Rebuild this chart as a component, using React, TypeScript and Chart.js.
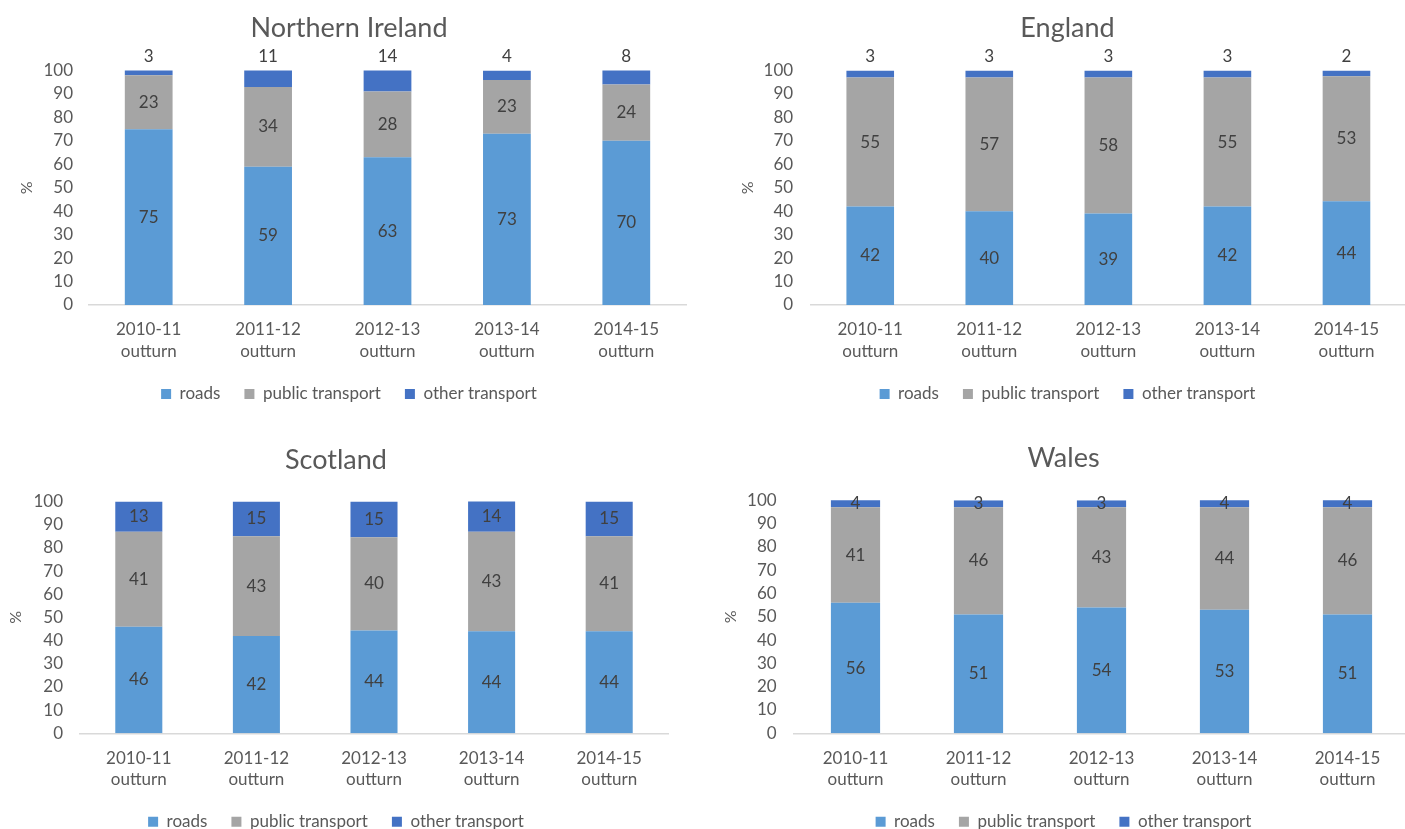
import React, { useEffect, useRef } from 'react';
import { Chart, registerables } from 'chart.js';

Chart.register(...registerables);

// ---------- data ----------
const categories: string[][] = [
  ['2010-11', 'outturn'],
  ['2011-12', 'outturn'],
  ['2012-13', 'outturn'],
  ['2013-14', 'outturn'],
  ['2014-15', 'outturn'],
];
const seriesNames = ['roads', 'public transport', 'other transport'];
const seriesColors = ['#5B9BD5', '#A5A5A5', '#4472C4'];

const niRoads = [75, 59, 63, 73, 70];
const niPublic = [23, 34, 28, 23, 24];
const niOther = [3, 11, 14, 4, 8];

const engRoads = [42, 40, 39, 42, 44.2];
const engPublic = [55, 57, 58, 55, 53.4];
const engOther = [3, 3, 3, 3, 2.4];

const scoRoads = [46, 42, 44.4, 44, 44];
const scoPublic = [41, 43, 40.2, 43, 41];
const scoOther = [13, 15, 15.4, 14, 15];

const walRoads = [56, 51, 54, 53, 51];
const walPublic = [41, 46, 43, 44, 46];
const walOther = [4, 3, 3, 4, 4];

const yMin = 0;
const yMax = 100;
const yStep = 10;

// ---------- layout ----------
const FONT = 'Lato, "Open Sans", sans-serif';
const TEXT = '#595959';
const LABEL = '#404040';

type Layout = {
  cl: number; ct: number; cw: number; ch: number;
  al: number; ar: number; tc: number; px: number;
  titleY: number; areaTop: number; areaBottom: number;
  xLabelY: number; legendY: number; otherAbove: boolean; yPad: number;
};

const PANELS: { title: string; series: number[][]; layout: Layout }[] = [
  {
    title: 'Northern Ireland',
    series: [niRoads, niPublic, niOther],
    layout: { cl: 0, ct: 0, cw: 700, ch: 412, al: 89, ar: 686, tc: 349, px: 27, titleY: 28, areaTop: 70.5, areaBottom: 305, xLabelY: 330, legendY: 394, otherAbove: true, yPad: 16 },
  },
  {
    title: 'England',
    series: [engRoads, engPublic, engOther],
    layout: { cl: 703, ct: 0, cw: 703, ch: 412, al: 810.7, ar: 1406, tc: 1067.5, px: 748, titleY: 28, areaTop: 70.5, areaBottom: 305, xLabelY: 330, legendY: 394, otherAbove: true, yPad: 17.5 },
  },
  {
    title: 'Scotland',
    series: [scoRoads, scoPublic, scoOther],
    layout: { cl: 0, ct: 415, cw: 672, ch: 425, al: 80, ar: 668, tc: 336, px: 16, titleY: 460, areaTop: 501.5, areaBottom: 733.3, xLabelY: 758.3, legendY: 821.7, otherAbove: false, yPad: 17 },
  },
  {
    title: 'Wales',
    series: [walRoads, walPublic, walOther],
    layout: { cl: 703, ct: 415, cw: 706, ch: 425, al: 794, ar: 1409, tc: 1063.5, px: 731, titleY: 458, areaTop: 500.3, areaBottom: 733.3, xLabelY: 758.3, legendY: 821.7, otherAbove: false, yPad: 17.3 },
  },
];

const TITLE_SIZE = 27;
const TITLE_LH = 1.2;
const PCT_SIZE = 16;
const PCT_LH = 1.2;
const TICK_SIZE = 17;
const X_LH = 1.276;
const LEGEND_SIZE = 17;
const LEGEND_PAD = 24;

function segmentLabels(otherAbove: boolean) {
  return {
    id: 'segmentLabels',
    afterDatasetsDraw(chart: any) {
      const { ctx, chartArea } = chart;
      ctx.save();
      ctx.font = `${TICK_SIZE}px ${FONT}`;
      ctx.fillStyle = LABEL;
      ctx.textAlign = 'center';
      ctx.textBaseline = 'middle';
      chart.data.datasets.forEach((ds: any, di: number) => {
        const meta = chart.getDatasetMeta(di);
        meta.data.forEach((bar: any, i: number) => {
          const { x, y, base } = bar.getProps(['x', 'y', 'base'], true);
          const v = ds.data[i] as number;
          let ty: number;
          if (di === 2 && otherAbove) {
            ty = chartArea.top - 13.5;
          } else {
            const top = Math.max(Math.min(y, base), chartArea.top);
            const bottom = Math.min(Math.max(y, base), chartArea.bottom);
            ty = (top + bottom) / 2;
          }
          ctx.fillText(String(Math.round(v)), x, ty);
        });
      });
      ctx.restore();
    },
  };
}

function buildConfig(title: string, series: number[][], L: Layout): any {
  const titleLH = TITLE_SIZE * TITLE_LH;
  const pctLH = PCT_SIZE * PCT_LH;
  const xLH = TICK_SIZE * X_LH;
  const pl = 2 * L.tc - L.ar - L.cl;
  const pr = L.cl + L.cw - L.ar;
  const yW = L.al - (L.cl + pl);
  const pctPad = Math.max(0, L.px - (L.cl + pl) - pctLH / 2);
  const tPadTop = L.titleY - L.ct - titleLH / 2;
  const tPadBottom = L.areaTop - L.ct - tPadTop - titleLH;
  const legendTop = L.legendY - LEGEND_PAD - LEGEND_SIZE / 2;
  const legendBottom = legendTop + LEGEND_SIZE + LEGEND_PAD + 10;
  const pb = L.ct + L.ch - legendBottom;
  const xH = legendTop - L.areaBottom;
  const xPad = L.xLabelY - L.areaBottom - xLH / 2;

  return {
    type: 'bar',
    data: {
      labels: categories,
      datasets: series.map((d, i) => ({
        label: seriesNames[i],
        data: d,
        backgroundColor: seriesColors[i],
        borderWidth: 0,
        barPercentage: 0.4,
        categoryPercentage: 1,
        clip: 0,
      })),
    },
    options: {
      responsive: false,
      animation: false,
      events: [],
      layout: { padding: { left: pl, right: pr, top: 0, bottom: pb } },
      plugins: {
        title: {
          display: true,
          text: title,
          color: TEXT,
          font: { family: FONT, size: TITLE_SIZE, weight: 'normal', lineHeight: TITLE_LH },
          padding: { top: tPadTop, bottom: tPadBottom },
        },
        legend: {
          display: true,
          position: 'bottom',
          labels: {
            boxWidth: 10,
            boxHeight: 10,
            padding: LEGEND_PAD,
            color: TEXT,
            font: { family: FONT, size: LEGEND_SIZE },
          },
        },
        tooltip: { enabled: false },
      },
      scales: {
        x: {
          stacked: true,
          grid: { display: false, drawTicks: false },
          border: { display: true, color: '#D9D9D9', width: 1.5 },
          ticks: {
            padding: xPad,
            color: TEXT,
            maxRotation: 0,
            autoSkip: false,
            font: { family: FONT, size: TICK_SIZE, lineHeight: X_LH },
          },
          afterFit: (s: any) => { s.height = xH; },
        },
        y: {
          stacked: true,
          min: yMin,
          max: yMax,
          grid: { display: false, drawTicks: false },
          border: { display: false },
          ticks: {
            stepSize: yStep,
            autoSkip: false,
            padding: L.yPad,
            color: TEXT,
            font: { family: FONT, size: TICK_SIZE, lineHeight: 1 },
          },
          title: {
            display: true,
            text: '%',
            color: TEXT,
            font: { family: FONT, size: PCT_SIZE, lineHeight: PCT_LH },
            padding: { top: pctPad, bottom: 0 },
          },
          afterFit: (s: any) => { s.width = yW; },
        },
      },
    },
    plugins: [segmentLabels(L.otherAbove)],
  };
}

function Panel({ title, series, layout }: { title: string; series: number[][]; layout: Layout }) {
  const ref = useRef<HTMLCanvasElement | null>(null);
  useEffect(() => {
    if (!ref.current) return;
    const chart = new Chart(ref.current, buildConfig(title, series, layout));
    return () => chart.destroy();
  }, [title, series, layout]);
  return (
    <canvas
      ref={ref}
      width={layout.cw}
      height={layout.ch}
      style={{ position: 'absolute', left: layout.cl, top: layout.ct, width: layout.cw, height: layout.ch }}
    />
  );
}

export default function App() {
  return (
    <div
      style={{
        position: 'absolute',
        left: 0,
        top: 0,
        width: 1405,
        height: 829,
        overflow: 'hidden',
        background: '#ffffff',
      }}
    >
      {PANELS.map((p) => (
        <Panel key={p.title} title={p.title} series={p.series} layout={p.layout} />
      ))}
    </div>
  );
}
